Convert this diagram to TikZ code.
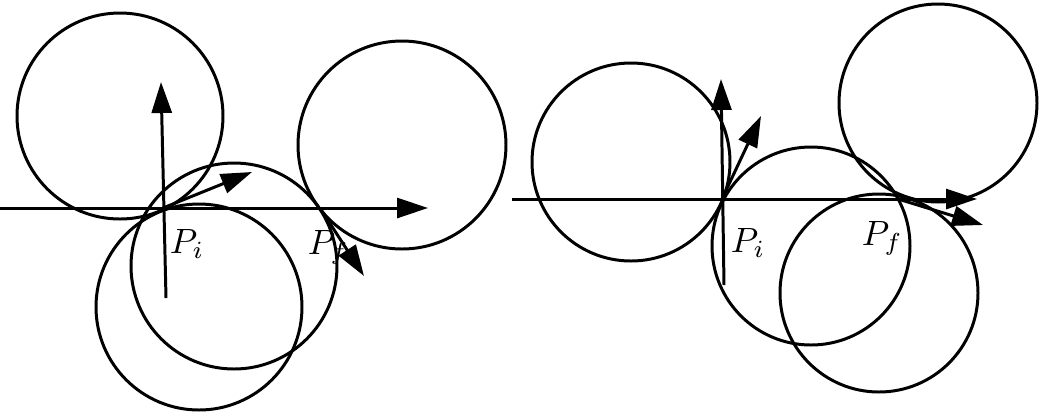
\documentclass[tikz,border=0pt]{standalone}
\usetikzlibrary{arrows.meta}

\begin{document}
\begin{tikzpicture}[x=0.02cm,y=-0.02cm,line width=1.7pt,>={Triangle[length=0.62cm,width=0.4cm]},
    disc/.style={draw},
    lbl/.style={anchor=base west,inner sep=0pt,scale=2}]
    \useasboundingbox (0,0) rectangle (1049,417);

    % left panel
    \coordinate (Pi1) at (163,208);
    \coordinate (Pf1) at (320,208);
    \coordinate (x1s) at (0,208);
    \coordinate (x1e) at (428,208);
    \coordinate (v1s) at (166,298);
    \coordinate (v1e) at (161,82);
    \coordinate (t1) at (252,172);
    \coordinate (t2) at (364,276);

    \draw[disc] (120,116) circle (103);
    \draw[disc] (234,266) circle (103);
    \draw[disc] (199,307) circle (103);
    \draw[disc] (402,145) circle (104);

    \draw[->] (x1s) -- (x1e);
    \draw[->] (v1s) -- (v1e);
    \draw[->] (Pi1) -- (t1);
    \draw[->] (Pf1) -- (t2);

    \node[lbl] (li1) at (167,253) {$P_i$};
    \node[lbl] (lf1) at (305,254) {$P_f$};

    % right panel
    \coordinate (Pi2) at (722,199);
    \coordinate (Pf2) at (898,199);
    \coordinate (x2s) at (512,199);
    \coordinate (x2e) at (977,199);
    \coordinate (v2s) at (724,285);
    \coordinate (v2e) at (721,79);
    \coordinate (t3) at (761,116);
    \coordinate (t4) at (983,225);

    \draw[disc] (631,162) circle (99);
    \draw[disc] (811,246) circle (99);
    \draw[disc] (879,293) circle (99);
    \draw[disc] (938,103) circle (99);

    \draw[->] (x2s) -- (x2e);
    \draw[->] (v2s) -- (v2e);
    \draw[->] (Pi2) -- (t3);
    \draw[->] (Pf2) -- (t4);

    \node[lbl] (li2) at (728,252) {$P_i$};
    \node[lbl] (lf2) at (859,245) {$P_f$};
\end{tikzpicture}
\end{document}
